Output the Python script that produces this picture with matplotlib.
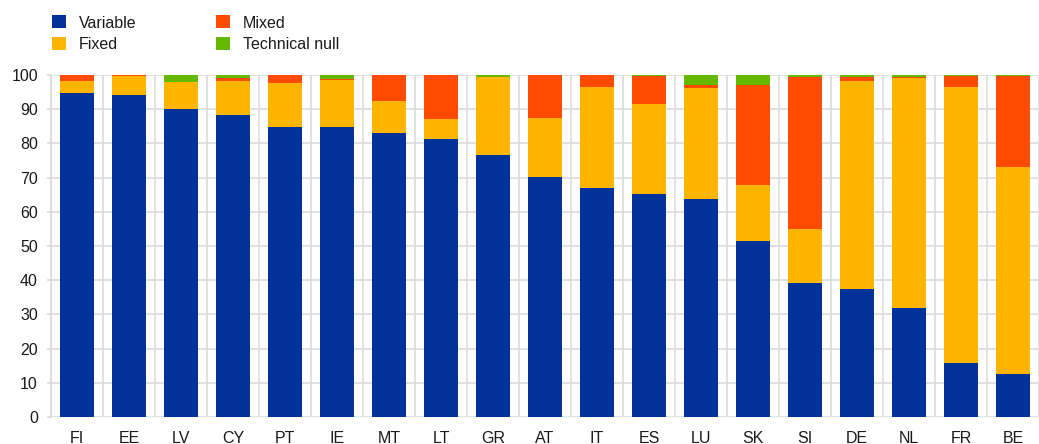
import matplotlib
matplotlib.use('Agg')
import matplotlib.pyplot as plt
import numpy as np

plt.rcParams['font.family'] = ['Liberation Sans', 'DejaVu Sans']

# data (percentages)
countries = ['FI', 'EE', 'LV', 'CY', 'PT', 'IE', 'MT', 'LT', 'GR', 'AT',
             'IT', 'ES', 'LU', 'SK', 'SI', 'DE', 'NL', 'FR', 'BE']
variable = [94.7, 94.2, 90.1, 88.3, 84.8, 84.8, 83.1, 81.3, 76.6, 70.3,
            66.9, 65.3, 63.7, 51.5, 39.3, 37.3, 32.0, 15.8, 12.5]
fixed = [3.6, 5.5, 7.9, 10.0, 12.9, 13.7, 9.2, 5.8, 22.9, 17.0,
         29.6, 26.3, 32.6, 16.3, 15.6, 60.9, 67.0, 80.7, 60.6]
mixed = [1.7, 0.3, 0.0, 0.8, 2.3, 0.3, 7.7, 12.9, 0.0, 12.7,
         3.5, 8.0, 0.7, 29.2, 44.6, 1.3, 0.4, 3.1, 26.7]
tech_null = [0.0, 0.0, 2.0, 0.9, 0.0, 1.2, 0.0, 0.0, 0.5, 0.0,
             0.0, 0.4, 3.0, 3.0, 0.5, 0.5, 0.6, 0.4, 0.2]

series = [('Variable', variable, '#003299'),
          ('Fixed', fixed, '#FFB400'),
          ('Mixed', mixed, '#FF4B00'),
          ('Technical null', tech_null, '#65B800')]

fig = plt.figure(figsize=(10.39, 4.44), dpi=100)
ax = fig.add_axes([51 / 1039, 27 / 444, (1039 - 51) / 1039, 342 / 444])

x = np.arange(len(countries))
bottom = np.zeros(len(countries))
handles = []
for name, vals, color in series:
    vals = np.array(vals)
    b = ax.bar(x, vals, bottom=bottom, width=0.67, color=color, label=name, zorder=3)
    handles.append(b)
    bottom += vals

ax.set_xlim(-0.5, 18.37)
ax.set_ylim(0, 100)
ax.set_yticks(range(0, 101, 10))
ax.set_xticks(x)
ax.set_xticklabels(countries)
ax.set_xticks(np.arange(-0.5, 19, 1), minor=True)

grid_col = '#d9d9d9'
ax.grid(axis='y', which='major', color=grid_col, linewidth=1.1, zorder=0)
ax.grid(axis='x', which='minor', color=grid_col, linewidth=1.1, zorder=0)
ax.set_axisbelow(True)

for s in ['top', 'right', 'bottom']:
    ax.spines[s].set_visible(False)
ax.spines['left'].set_color(grid_col)
ax.spines['left'].set_linewidth(1.1)

fs = 11.5
ax.tick_params(axis='y', which='major', length=3, color=grid_col, width=1.1,
               pad=6.4, labelsize=fs, labelcolor='#1a1a1a')
ax.tick_params(axis='x', which='major', length=0, pad=10, labelsize=fs,
               labelcolor='#1a1a1a')
ax.tick_params(axis='x', which='minor', length=0)

fig.legend(handles=handles, loc='upper left', bbox_to_anchor=(52 / 1039, 1 - 15.5 / 444),
           ncol=2, frameon=False, fontsize=fs, handlelength=0.875, handleheight=0.875,
           handletextpad=0.8, columnspacing=5.0, labelspacing=0.375, borderpad=0,
           borderaxespad=0, labelcolor='#1a1a1a')

fig.savefig('out.png', dpi=100)
